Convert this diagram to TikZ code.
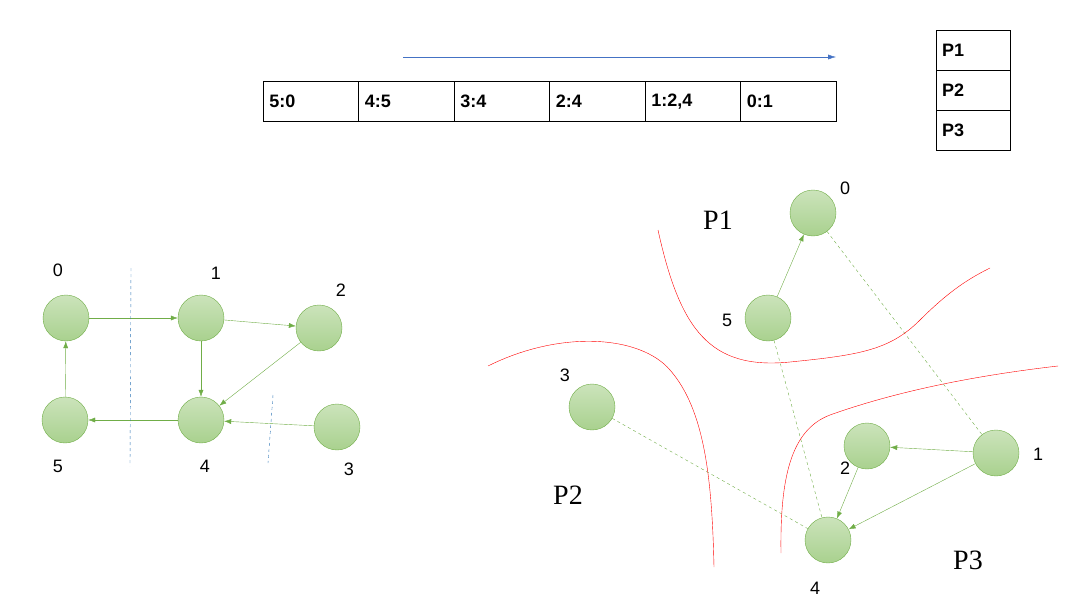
\documentclass[tikz,border=0pt]{standalone}
\usepackage{fontspec}
\setmainfont{Liberation Sans}
\newfontfamily\pserif{Liberation Serif}
\usetikzlibrary{arrows.meta}
\definecolor{nodegreen}{HTML}{A9D18E}
\definecolor{edgegreen}{HTML}{70AD47}
\definecolor{cutblue}{HTML}{2E75B6}
\definecolor{arrblue}{HTML}{4472C4}
\tikzset{
  vert/.style={circle,minimum size=46pt,inner sep=0pt,draw=edgegreen,top color=nodegreen!60,bottom color=nodegreen},
  lbl/.style={font=\fontsize{18}{18}\selectfont},
  plbl/.style={font=\pserif\fontsize{28}{28}\selectfont},
  edge/.style={draw=edgegreen,-{Latex[length=7pt,width=5pt]}},
  link/.style={draw=edgegreen,dashed},
  cell/.style={draw,minimum height=40pt,inner sep=6pt,font=\bfseries\fontsize{18}{18}\selectfont}
}
\begin{document}
\begin{tikzpicture}[x=1pt,y=-1pt]
\useasboundingbox (0,0) rectangle (1088,608);
% order table
\draw[arrblue,-{Latex[length=8pt,width=5pt]}] (403,57) -- (836,57);
\foreach \t [count=\i from 0] in {5:0,4:5,3:4,2:4,{1:2,4},0:1}{
  \node[cell,minimum width=95.5pt,text width=83pt,align=left] (c\i) at (263+47.75+95.5*\i,101.5) {\t};
}
\foreach \p [count=\i] in {P1,P2,P3}{
  \node[cell,minimum width=74pt,text width=62pt,align=left] (p\i) at (973,10+40*\i) {\p};
}
% left graph
\node[vert] (a0) at (66,318) {};
\node[vert] (a1) at (201,318) {};
\node[vert] (a2) at (319,328) {};
\node[vert] (a5) at (65,420) {};
\node[vert] (a4) at (201,420) {};
\node[vert] (a3) at (337,427) {};
\node[lbl] at (58,270) {0};
\node[lbl] at (216,273) {1};
\node[lbl] at (341,290) {2};
\node[lbl] at (58,466) {5};
\node[lbl] at (205,466) {4};
\node[lbl] at (349,469) {3};
\draw[edge] (a0) -- (a1);
\draw[edge] (a1) -- (a2);
\draw[edge] (a1) -- (a4);
\draw[edge] (a2) -- (a4);
\draw[edge] (a3) -- (a4);
\draw[edge] (a4) -- (a5);
\draw[edge] (a5) -- (a0);
\draw[cutblue,dashed] (131,268) -- (130,466);
\draw[cutblue,dashed] (273,395) -- (268,463);
% right graph
\node[vert] (b0) at (813,213) {};
\node[vert] (b5) at (768,318) {};
\node[vert] (b3) at (592,407) {};
\node[vert] (b2) at (867,446) {};
\node[vert] (b1) at (996,453) {};
\node[vert] (b4) at (828,540) {};
\node[lbl] at (845,188) {0};
\node[lbl] at (727,320) {5};
\node[lbl] at (565,375) {3};
\node[lbl] at (845,468) {2};
\node[lbl] at (1038,454) {1};
\node[lbl] at (815,588) {4};
\draw[edge] (b5) -- (b0);
\draw[edge] (b1) -- (b2);
\draw[edge] (b2) -- (b4);
\draw[edge] (b1) -- (b4);
\draw[link] (b0) -- (b1);
\draw[link] (b5) -- (b4);
\draw[link] (b3) -- (b4);
\node[plbl] at (718,220) {P1};
\node[plbl] at (568,495) {P2};
\node[plbl] at (968,560) {P3};
% partition borders
\draw[red] (658,230) .. controls (680,330) and (710,370) .. (790,362) .. controls (860,355) and (890,350) .. (920,320) .. controls (950,290) and (970,278) .. (990,268);
\draw[red] (488,366) .. controls (560,330) and (640,335) .. (670,370) .. controls (705,410) and (712,480) .. (714,567);
\draw[red] (781,553) .. controls (780,480) and (790,430) .. (830,415) .. controls (900,390) and (980,375) .. (1058,366);
\end{tikzpicture}
\end{document}
